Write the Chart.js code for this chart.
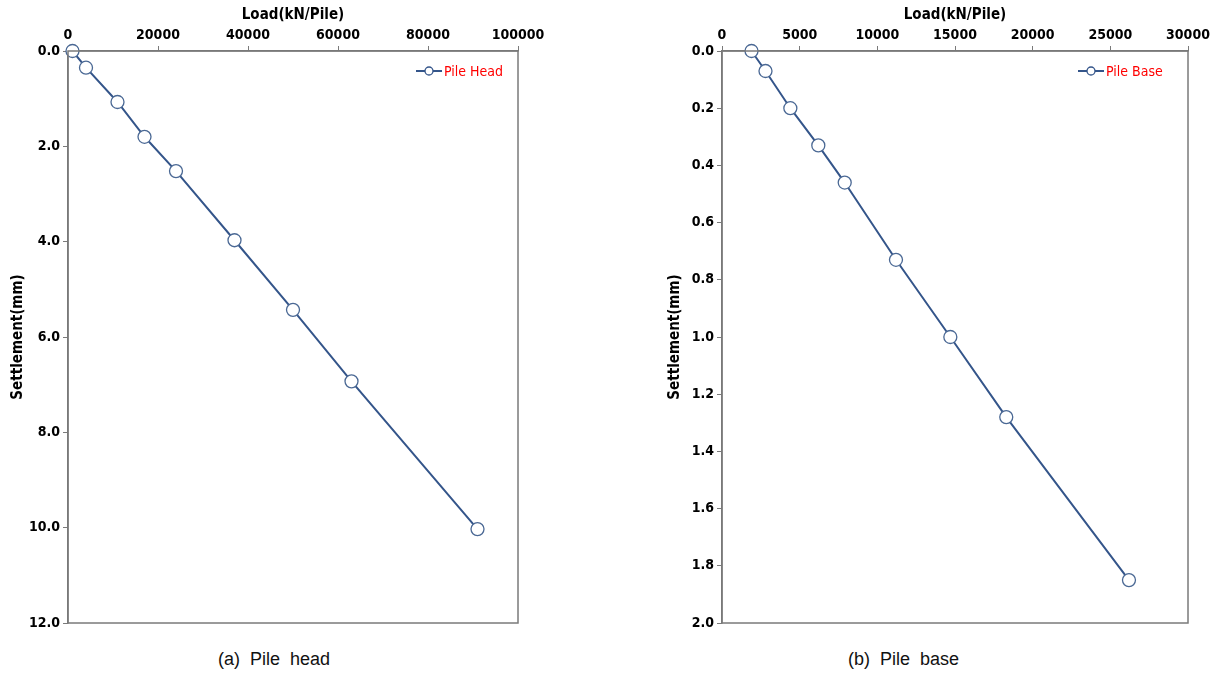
<!DOCTYPE html>
<html>
<head>
<meta charset="utf-8">
<script src="https://cdn.jsdelivr.net/npm/chart.js@4.4.1/dist/chart.umd.min.js"></script>
<style>
  body { margin: 0; background: #fff; width: 1215px; height: 675px; position: relative; overflow: hidden; }
  .box { position: absolute; }
  .cap { position: absolute; top: 649px; font: 18px "Liberation Sans", Arial, sans-serif; color: #111; }
</style>
</head>
<body>
<div class="box" style="left:0px;top:0px;width:560px;height:640px"><canvas id="headChart"></canvas></div>
<div class="box" style="left:650px;top:0px;width:565px;height:640px"><canvas id="baseChart"></canvas></div>
<div class="cap" style="left:218px">(a)&nbsp; Pile&nbsp; head</div>
<div class="cap" style="left:848px">(b)&nbsp; Pile&nbsp; base</div>
<script>
// Pile head data
const headLoad = [1000, 4000, 11000, 17000, 24000, 37000, 50000, 63000, 91000];
const headSettle = [0, 0.35, 1.07, 1.80, 2.52, 3.97, 5.43, 6.93, 10.03];

// Pile base data
const baseLoad = [1900, 2800, 4400, 6200, 7900, 11200, 14700, 18300, 26200];
const baseSettle = [0, 0.07, 0.20, 0.33, 0.46, 0.73, 1.00, 1.28, 1.85];

const lineColor = '#34558a';
const fontFam = '"DejaVu Sans Condensed", "DejaVu Sans", sans-serif';
const tickFont = { family: fontFam, size: 14, weight: 'bold' };

// box round the plot + legend inside top right
const framePlugin = {
  id: 'frame',
  afterDraw(chart, args, opts) {
    const { ctx, chartArea: a } = chart;
    ctx.save();
    ctx.strokeStyle = '#7a7a7a';
    ctx.lineWidth = 1.5;
    ctx.strokeRect(a.left, a.top, a.right - a.left, a.bottom - a.top);
    // legend
    const lx = opts.x, ly = opts.y;
    ctx.strokeStyle = lineColor;
    ctx.lineWidth = 2;
    ctx.beginPath();
    ctx.moveTo(lx, ly);
    ctx.lineTo(lx + 26, ly);
    ctx.stroke();
    ctx.beginPath();
    ctx.arc(lx + 13, ly, 4, 0, Math.PI * 2);
    ctx.fillStyle = '#fff';
    ctx.fill();
    ctx.lineWidth = 1.3;
    ctx.stroke();
    ctx.fillStyle = '#ff0000';
    ctx.font = '14px ' + fontFam;
    ctx.textBaseline = 'middle';
    ctx.fillText(opts.text, lx + 28, ly + 1);
    ctx.restore();
  }
};

function makeChart(id, loads, settles, xMax, xStep, yMax, yStep, yWidth, yTitlePad, legendX, legendText) {
  const points = loads.map((v, i) => ({ x: v, y: settles[i] }));
  return new Chart(document.getElementById(id), {
    type: 'line',
    data: {
      datasets: [{
        data: points,
        borderColor: lineColor,
        borderWidth: 2,
        pointRadius: 6.5,
        pointBackgroundColor: '#fff',
        pointBorderColor: '#4a6894',
        pointBorderWidth: 1.3,
        tension: 0,
        clip: false
      }]
    },
    options: {
      responsive: true,
      maintainAspectRatio: false,
      animation: false,
      layout: { padding: { left: 0, top: 0, right: id === 'headChart' ? 42 : 27, bottom: 17 } },
      plugins: {
        legend: { display: false },
        tooltip: { enabled: false },
        frame: { x: legendX, y: 71, text: legendText }
      },
      scales: {
        x: {
          type: 'linear',
          position: 'top',
          min: 0, max: xMax,
          ticks: { stepSize: xStep, color: '#000', font: tickFont, padding: 2, maxRotation: 0, callback: v => String(v) },
          grid: { drawOnChartArea: false, color: '#7a7a7a', tickLength: 5 },
          border: { color: '#7a7a7a', width: 1.5 },
          title: { display: true, text: 'Load(kN/Pile)', color: '#000', font: { ...tickFont, size: 15 }, padding: { top: 6, bottom: 0 } },
          afterFit(s) { s.height = 51; }
        },
        y: {
          type: 'linear',
          reverse: true,
          min: 0, max: yMax,
          ticks: { stepSize: yStep, color: '#000', font: tickFont, padding: 3, callback: v => v.toFixed(1) },
          grid: { drawOnChartArea: false, color: '#7a7a7a', tickLength: 5 },
          border: { color: '#7a7a7a', width: 1.5 },
          title: { display: true, text: 'Settlement(mm)', color: '#000', font: { ...tickFont, size: 15 }, padding: { top: yTitlePad, bottom: 0 } },
          afterFit(s) { s.width = yWidth; }
        }
      }
    },
    plugins: [framePlugin]
  });
}

makeChart('headChart', headLoad, headSettle, 100000, 20000, 12, 2, 68, 9, 416, 'Pile Head');
makeChart('baseChart', baseLoad, baseSettle, 30000, 5000, 2, 0.2, 72, 16, 428, 'Pile Base');
</script>
</body>
</html>
